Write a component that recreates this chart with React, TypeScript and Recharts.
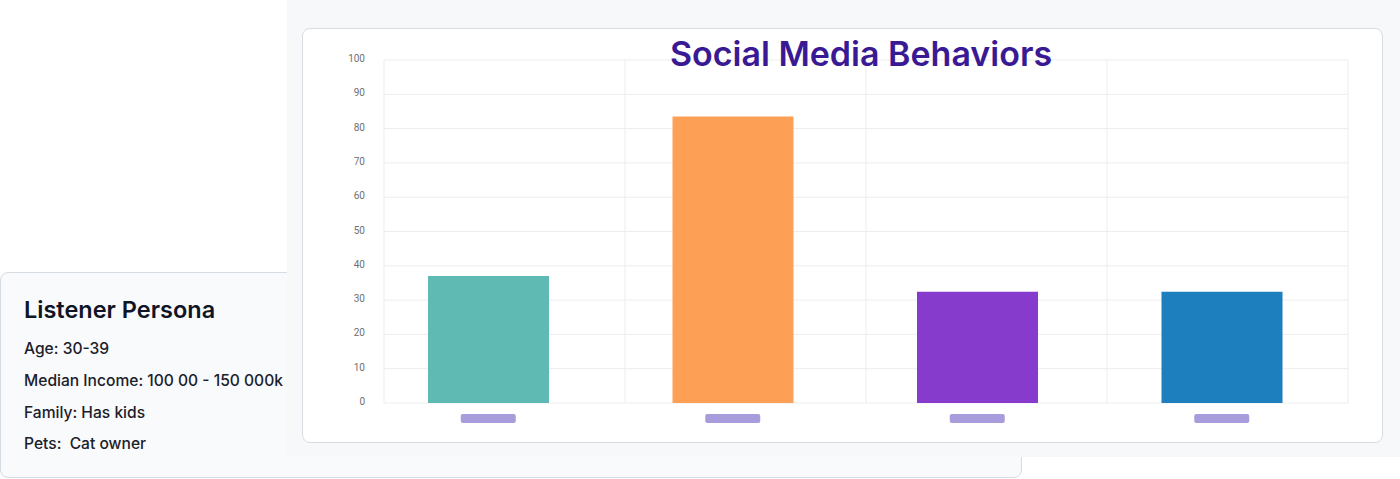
import React from 'react';
import { BarChart, Bar, XAxis, YAxis, CartesianGrid, Cell } from 'recharts';

// ---- data ----
const categories = ['Facebook', 'Instagram', 'TikTok', 'YouTube'];
const shareValues = [37, 83.5, 32.4, 32.4];
const barColors = ['#5fbab3', '#fd9f55', '#873bcd', '#1d7fbd'];
const yTicks = [0, 10, 20, 30, 40, 50, 60, 70, 80, 90, 100];
const chartTitle = 'Social Media Behaviors';
const personaTitle = 'Listener Persona';
const personaLines = ['Age: 30-39', 'Median Income: 100 00 - 150 000k', 'Family: Has kids', 'Pets:  Cat owner'];

const tableData = categories.map((name, i) => ({ name, value: shareValues[i] }));

const PlaceholderTick = (props: any) => {
  const { x, y } = props;
  return <rect x={x - 27.5} y={y + 3} width={55} height={9} rx={2} fill="#a99cdd" />;
};

const gridVerticals = ({ offset }: any) =>
  [0, 1, 2, 3, 4].map((i) => offset.left + (offset.width * i) / categories.length);

export default function App() {
  return (
    <div style={{ position: 'absolute', left: 0, top: 0, width: 1400, height: 479, background: '#ffffff', overflow: 'hidden' }}>
      {/* persona card */}
      <div
        style={{
          position: 'absolute', left: 0, top: 272, width: 1022, height: 206,
          background: '#f8fafc', border: '1px solid #d5dce4', borderRadius: 8, boxSizing: 'border-box',
        }}
      />
      <svg width={300} height={479} style={{ position: 'absolute', left: 0, top: 0 }}>
        <text x={24} y={317.5} fontFamily="Inter" fontWeight={600} fontSize={23.5} fill="#0f1526">{personaTitle}</text>
        {personaLines.map((t, i) => (
          <text key={i} x={24} y={354.3 + i * 31.7} fontFamily="Inter" fontWeight={500} fontSize={15.6} fill="#1c2029" style={{ whiteSpace: 'pre' }}>
            {t}
          </text>
        ))}
      </svg>
      {/* grey panel */}
      <div style={{ position: 'absolute', left: 287, top: 0, width: 1113, height: 457, background: '#f6f8fa' }} />
      {/* chart card */}
      <div
        style={{
          position: 'absolute', left: 302, top: 28, width: 1081, height: 415,
          background: '#ffffff', border: '1px solid #d8dde3', borderRadius: 8, boxSizing: 'border-box',
        }}
      />
      <div style={{ position: 'absolute', left: 302, top: 28, width: 1080, height: 414 }}>
        <BarChart width={1080} height={414} data={tableData} margin={{ top: 32, right: 34, left: 0, bottom: 0 }}>
          <CartesianGrid stroke="#ededed" verticalCoordinatesGenerator={gridVerticals} />
          <XAxis
            dataKey="name"
            height={39}
            axisLine={false}
            tickLine={false}
            tick={<PlaceholderTick />}
            padding={{ left: -18, right: 4 }}
            interval={0}
          />
          <YAxis
            width={82}
            domain={[0, 100]}
            ticks={yTicks}
            axisLine={false}
            tickLine={false}
            tickMargin={13}
            dy={-1.5}
            tick={{ fontSize: 10, fill: '#707070', fontFamily: 'Roboto' }}
          />
          <Bar dataKey="value" barSize={121} isAnimationActive={false}>
            {tableData.map((d, i) => (
              <Cell key={d.name} fill={barColors[i]} />
            ))}
          </Bar>
        </BarChart>
      </div>
      <svg width={1400} height={479} style={{ position: 'absolute', left: 0, top: 0, pointerEvents: 'none' }}>
        <text x={861} y={65.7} textAnchor="middle" fontFamily="Inter" fontWeight={600} fontSize={34} fill="#3a1a94">
          {chartTitle}
        </text>
      </svg>
    </div>
  );
}
